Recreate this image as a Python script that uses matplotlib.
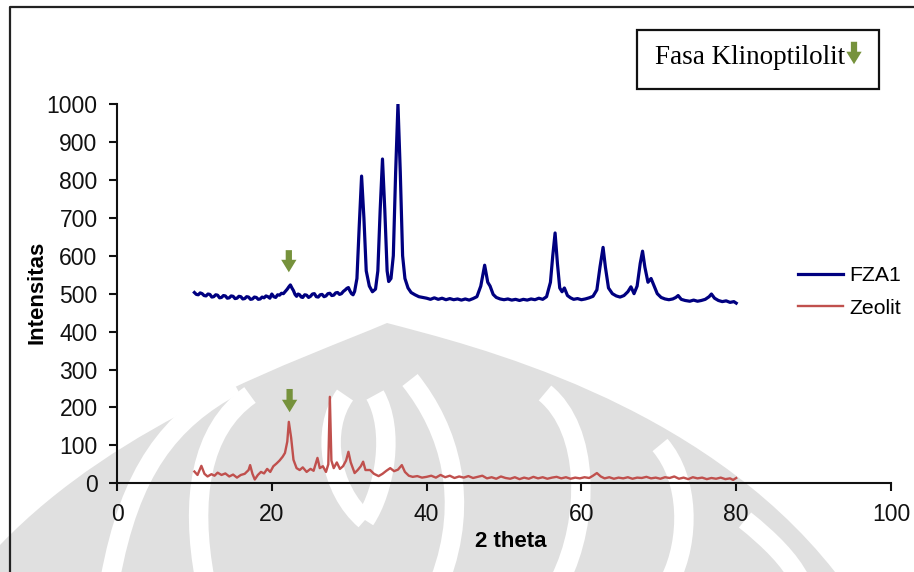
import matplotlib
matplotlib.use('Agg')
import matplotlib.pyplot as plt
from matplotlib.path import Path
from matplotlib.patches import PathPatch, Rectangle
from matplotlib.lines import Line2D
from matplotlib.transforms import Affine2D

plt.rcParams['font.family'] = ['Liberation Sans', 'DejaVu Sans']

# FZA1 pattern (2 theta, intensity)
fza1_x = [10.0, 10.25, 10.5, 10.75, 11.0, 11.25, 11.5, 11.75, 12.0, 12.25, 12.5, 12.75, 13.0,
          13.25, 13.5, 13.75, 14.0, 14.25, 14.5, 14.75, 15.0, 15.25, 15.5, 15.75, 16.0, 16.25,
          16.5, 16.75, 17.0, 17.25, 17.5, 17.75, 18.0, 18.25, 18.5, 18.75, 19.0, 19.25, 19.5,
          19.75, 20.0, 20.25, 20.5, 20.75, 21.0, 21.25, 21.5, 21.75, 22.0, 22.2, 22.4, 22.6,
          22.8, 23.0, 23.2, 23.4, 23.6, 23.8, 24.0, 24.25, 24.5, 24.75, 25.0, 25.25, 25.5,
          25.75, 26.0, 26.25, 26.5, 26.75, 27.0, 27.25, 27.5, 27.75, 28.0, 28.25, 28.5, 28.75,
          29.0, 29.25, 29.5, 29.7, 29.9, 30.1, 30.3, 30.5, 30.7, 31.0, 31.3, 31.6, 31.9, 32.2,
          32.6, 33.0, 33.4, 33.7, 34.0, 34.3, 34.6, 34.9, 35.1, 35.4, 35.7, 36.0, 36.3, 36.6,
          36.9, 37.2, 37.6, 38.0, 38.5, 39.0, 39.5, 40.0, 40.5, 41.0, 41.5, 42.0, 42.5, 43.0,
          43.5, 44.0, 44.5, 45.0, 45.5, 46.0, 46.5, 47.0, 47.5, 47.9, 48.2, 48.6, 49.0, 49.5,
          50.0, 50.5, 51.0, 51.5, 52.0, 52.5, 53.0, 53.5, 54.0, 54.5, 55.0, 55.5, 56.0, 56.3,
          56.6, 56.9, 57.2, 57.5, 57.8, 58.2, 58.6, 59.0, 59.5, 60.0, 60.5, 61.0, 61.5, 62.0,
          62.4, 62.8, 63.1, 63.5, 64.0, 64.5, 65.0, 65.5, 66.0, 66.4, 66.8, 67.2, 67.6, 67.9,
          68.2, 68.6, 69.0, 69.4, 69.8, 70.3, 70.8, 71.3, 71.8, 72.2, 72.5, 72.9, 73.4, 74.0,
          74.5, 75.0, 75.5, 76.0, 76.5, 76.8, 77.2, 77.7, 78.2, 78.7, 79.2, 79.7, 80.0]
fza1_y = [503, 498, 497, 502, 500, 495, 494, 499, 498, 491, 492, 497, 496,
          489, 490, 495, 494, 488, 489, 494, 493, 487, 488, 493, 492, 486,
          487, 492, 491, 485, 486, 491, 490, 485, 486, 491, 489, 494, 492,
          488, 499, 492, 490, 497, 496, 501, 500, 506, 512, 518, 523, 515,
          508, 498, 493, 499, 497, 491, 490, 497, 496, 490, 493, 499, 500,
          492, 491, 497, 498, 492, 494, 500, 501, 495, 496, 502, 503, 498,
          500, 506, 510, 514, 516, 507, 500, 497, 506, 540, 680, 810, 700, 560,
          520, 505, 512, 560, 720, 855, 720, 560, 532, 540, 600, 820, 1000, 820,
          600, 540, 515, 503, 497, 492, 490, 488, 485, 489, 485, 488, 484, 487,
          484, 486, 483, 486, 483, 487, 492, 520, 575, 530, 520, 498, 490, 486,
          484, 486, 483, 485, 482, 485, 483, 486, 484, 488, 485, 492, 530, 600,
          660, 580, 515, 505, 515, 495, 489, 485, 487, 484, 486, 489, 493, 510,
          570, 622, 570, 515, 500, 494, 491, 495, 505, 518, 500, 520, 580, 612,
          570, 530, 540, 520, 500, 490, 486, 484, 486, 490, 495, 485, 482, 480,
          483, 480, 482, 485, 492, 499, 488, 482, 479, 481, 477, 479, 475]

# Zeolit pattern
zeo_x = [10.0, 10.4, 10.9, 11.3, 11.7, 12.2, 12.6, 13.0, 13.5, 14.0, 14.5, 15.0, 15.5, 16.0,
         16.5, 17.0, 17.2, 17.5, 17.8, 18.2, 18.6, 19.0, 19.4, 19.8, 20.2, 20.6, 21.0, 21.4,
         21.7, 22.0, 22.2, 22.5, 22.8, 23.2, 23.6, 24.0, 24.5, 25.0, 25.4, 25.9, 26.2, 26.6,
         27.0, 27.3, 27.5, 27.7, 28.0, 28.4, 28.8, 29.2, 29.6, 29.9, 30.2, 30.7, 31.1, 31.5,
         31.8, 32.1, 32.7, 33.2, 33.8, 34.3, 34.8, 35.3, 35.8, 36.3, 36.8, 37.2, 37.7, 38.2,
         38.8, 39.4, 40.0, 40.6, 41.2, 41.8, 42.4, 43.0, 43.6, 44.2, 44.8, 45.4, 46.0, 46.6,
         47.2, 47.8, 48.4, 49.0, 49.6, 50.2, 50.8, 51.4, 52.0, 52.6, 53.2, 53.8, 54.4, 55.0,
         55.6, 56.2, 56.8, 57.4, 58.0, 58.6, 59.2, 59.8, 60.4, 61.0, 61.5, 62.0, 62.5, 63.0,
         63.6, 64.2, 64.8, 65.4, 66.0, 66.6, 67.2, 67.8, 68.4, 69.0, 69.6, 70.2, 70.8, 71.4,
         72.0, 72.6, 73.2, 73.8, 74.4, 75.0, 75.6, 76.2, 76.8, 77.4, 78.0, 78.6, 79.2, 79.6,
         80.0]
zeo_y = [31, 22, 46, 25, 18, 24, 20, 28, 22, 26, 18, 23, 15, 22,
         25, 35, 48, 25, 10, 22, 30, 26, 38, 30, 45, 52, 60, 70,
         80, 110, 162, 120, 62, 40, 35, 42, 30, 38, 33, 67, 40, 45,
         30, 50, 228, 60, 40, 55, 38, 45, 60, 83, 55, 27, 35, 45,
         57, 35, 35, 25, 19, 25, 33, 40, 32, 36, 48, 30, 20, 17,
         19, 15, 17, 20, 15, 22, 16, 20, 14, 18, 15, 19, 14, 17,
         20, 13, 16, 12, 18, 14, 12, 16, 11, 15, 12, 17, 13, 16,
         12, 15, 17, 13, 16, 12, 15, 13, 16, 14, 20, 27, 18, 13,
         16, 12, 15, 13, 16, 12, 15, 14, 17, 13, 15, 12, 16, 14,
         18, 12, 15, 11, 16, 13, 15, 11, 14, 12, 15, 11, 13, 9,
         14]

# klinoptilolit markers (2 theta, arrow top, arrow tip)
marker_x = [22.2, 22.3]
marker_top = [622, 256]
marker_tip = [549, 180]

x_ticks = [0, 20, 40, 60, 80, 100]
y_ticks = [0, 100, 200, 300, 400, 500, 600, 700, 800, 900, 1000]

W, H = 914, 572
fig = plt.figure(figsize=(W / 100, H / 100), dpi=100)
fig.patch.set_facecolor('white')

# pixel coordinates with origin at top-left
px = Affine2D().scale(1, -1).translate(0, H)

# faint watermark behind the chart
wm_gray = '#e0e0e0'
dome = Path([(0, 572), (0, 545), (120, 420), (300, 360), (387, 323),
             (470, 345), (700, 400), (835, 572), (0, 572)],
            [Path.MOVETO, Path.LINETO, Path.CURVE4, Path.CURVE4, Path.CURVE4,
             Path.CURVE4, Path.CURVE4, Path.CURVE4, Path.CLOSEPOLY])
fig.patches.append(PathPatch(dome, transform=px, facecolor=wm_gray, edgecolor='none', zorder=-5))
stripes = [
    [(110, 580), (130, 470), (170, 420), (235, 385)],
    [(205, 580), (190, 500), (200, 430), (250, 395)],
    [(345, 395), (320, 430), (330, 490), (365, 520)],
    [(375, 395), (395, 430), (385, 490), (365, 520)],
    [(410, 380), (450, 430), (470, 500), (440, 580)],
    [(545, 393), (590, 430), (590, 520), (560, 580)],
    [(660, 445), (690, 480), (690, 540), (670, 580)],
    [(745, 520), (770, 540), (790, 560), (800, 580)],
]
for s in stripes:
    p = Path(s, [Path.MOVETO, Path.CURVE4, Path.CURVE4, Path.CURVE4])
    fig.patches.append(PathPatch(p, transform=px, facecolor='none', edgecolor='white',
                                 lw=14, zorder=-4))

# outer frame (left and top edges visible)
fig.lines.append(Line2D([10, 10, W + 5], [H + 5, 7, 7], transform=px, color='#222222', lw=1.6))

ax = fig.add_axes([117 / W, 1 - 483.3 / H, (891 - 117) / W, (483.3 - 104) / H])
ax.patch.set_alpha(0)

ax.plot(fza1_x, fza1_y, color='#000080', lw=2.3, label='FZA1')
ax.plot(zeo_x, zeo_y, color='#c0504d', lw=1.7, label='Zeolit')

green = '#76923c'
arrow_style = 'simple,head_width=1.1,head_length=0.9,tail_width=0.45'
for mx, mt, mk in zip(marker_x, marker_top, marker_tip):
    ax.annotate('', xy=(mx, mk), xytext=(mx, mt),
                arrowprops=dict(arrowstyle=arrow_style, color=green, lw=0))

ax.set_xlim(0, 100)
ax.set_ylim(0, 1000)
ax.set_xticks(x_ticks)
ax.set_yticks(y_ticks)
for side in ['top', 'right']:
    ax.spines[side].set_visible(False)
for side in ['left', 'bottom']:
    ax.spines[side].set_linewidth(1.5)
    ax.spines[side].set_color('#111111')
ax.tick_params(direction='out', length=6, width=1.5, pad=8, labelsize=16.5, colors='#111111')

ax.set_xlabel('2 theta', fontsize=16, fontweight='bold')
ax.set_ylabel('Intensitas', fontsize=16, fontweight='bold')
ax.xaxis.set_label_coords((511 - 117) / 774, (483.3 - 531) / 379.3)
ax.yaxis.set_label_coords((47 - 117) / 774, 0.504)

ax.legend(loc='center left', bbox_to_anchor=(798 / W, 1 - 292 / H), bbox_transform=fig.transFigure,
          frameon=False, fontsize=15.3, handlelength=2.1, handletextpad=0.3, labelspacing=0.65,
          borderpad=0, borderaxespad=0)

# phase note box
fig.patches.append(Rectangle((637, 30), 242, 59, transform=px, fill=False,
                             edgecolor='#111111', lw=1.6))
fig.text(655 / W, 1 - 57 / H, 'Fasa Klinoptilolit', family='Liberation Serif', fontsize=19.5,
         va='center', ha='left')
ax.annotate('', xy=(854, H - 67), xytext=(854, H - 39), xycoords='figure pixels',
            textcoords='figure pixels',
            arrowprops=dict(arrowstyle=arrow_style, color=green, lw=0), annotation_clip=False)

fig.savefig('out.png', dpi=100)
